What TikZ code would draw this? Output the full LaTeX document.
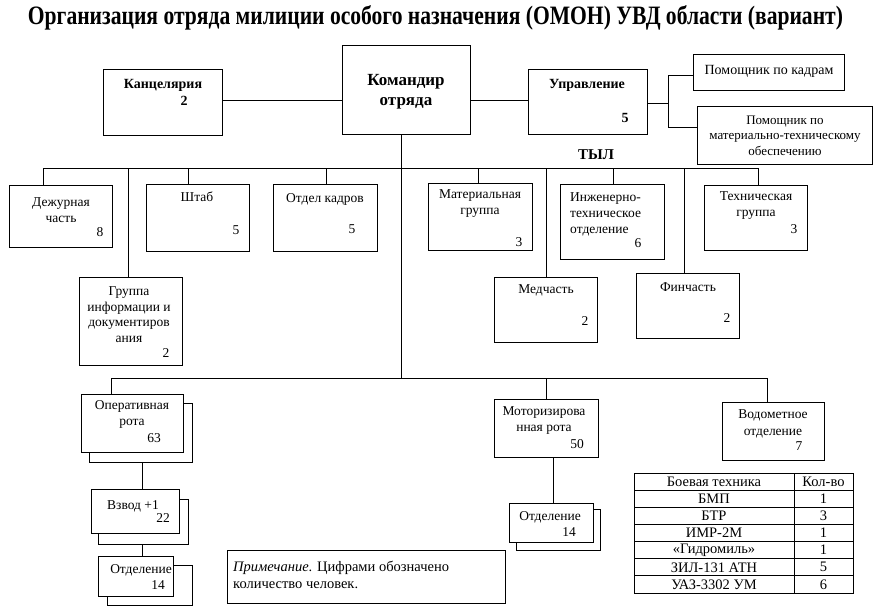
\documentclass[tikz,border=0pt]{standalone}
\usepackage{fontspec}
\setmainfont{Liberation Serif}
\usepackage{graphicx}
\begin{document}
\begin{tikzpicture}[x=1pt,y=-1pt,
  box/.style={draw, line width=0.8pt, fill=white, inner sep=0pt, anchor=north west},
  txt/.style={font=\fontsize{13.5}{16}\selectfont, align=center, inner sep=0pt},
  ttxt/.style={font=\fontsize{14.5}{16}\selectfont, align=center, inner sep=0pt},
  btxt/.style={font=\fontsize{14}{16}\bfseries\selectfont, align=center, inner sep=0pt},
  con/.style={line width=0.8pt}]
\newcommand\bx[5]{\node[box, minimum width={(#4-#2)*1pt}, minimum height={(#5-#3)*1pt}] (#1) at (#2,#3) {};}
\useasboundingbox (0,0) rectangle (883,611);
% title
\node[anchor=base, inner sep=0pt] (title) at (435.5,24)
  {\resizebox{815pt}{19pt}{\bfseries Организация отряда милиции особого назначения (ОМОН) УВД области (вариант)}};
% boxes
\bx{kanc}{103}{69}{222}{135}
\bx{kom}{342}{45}{470}{134}
\bx{upr}{528}{69}{647}{134}
\bx{pk}{693}{54}{844}{90}
\bx{pmto}{697}{106}{872}{164}
\bx{dezh}{9}{185}{112}{247}
\bx{shtab}{146}{184}{249}{251}
\bx{okadr}{273}{184}{377}{251}
\bx{gr}{79}{277}{182}{365}
\bx{mat}{428}{183}{532}{250}
\bx{inzh}{560}{184}{664}{259}
\bx{med}{494}{277}{597}{342}
\bx{tech}{704}{185}{807}{250}
\bx{fin}{636}{273}{739}{338}
\bx{opersh}{89}{403}{192}{462}
\bx{oper}{81}{394}{183}{452}
\bx{vzvsh}{98}{499}{188}{544}
\bx{vzv}{91}{489}{179}{533}
\bx{otdash}{107}{565}{192}{605}
\bx{otda}{98}{556}{173}{596}
\bx{mot}{494}{399}{598}{457}
\bx{otdbsh}{516}{509}{600}{550}
\bx{otdb}{509}{503}{593}{542}
\bx{vod}{722}{402}{824}{460}
\bx{note}{227}{550}{505}{603}
% connectors top
\coordinate (hA) at (0,100);
\draw[con] (kanc.east |- hA) -- (kom.west |- hA);
\draw[con] (kom.east |- hA) -- (upr.west |- hA);
\coordinate (uj) at (668,103);
\coordinate (uj1) at (668,75);
\coordinate (uj2) at (668,127);
\draw[con] (upr.east |- uj) -- (uj);
\draw[con] (uj1) -- (uj2);
\draw[con] (uj1) -- (uj1 -| pk.west);
\draw[con] (uj2) -- (uj2 -| pmto.west);
% main vertical and buses
\coordinate (mv) at (401,378);
\draw[con] (kom.south -| mv) -- (mv);
\coordinate (tb1) at (43,168);
\coordinate (tb2) at (758,168);
\draw[con] (tb1) -- (tb2);
\foreach \xx/\n in {43/dezh,128/gr,188/shtab,326/okadr,478/mat,546/med,613/inzh,684/fin,758/tech}{
  \coordinate (t-\n) at (\xx,168);
  \draw[con] (t-\n) -- (t-\n |- \n.north);
}
\coordinate (lb1) at (111,378);
\coordinate (lb2) at (767,378);
\draw[con] (lb1) -- (lb2);
\foreach \xx/\n in {111/oper,546/mot,767/vod}{
  \coordinate (l-\n) at (\xx,378);
  \draw[con] (l-\n) -- (l-\n |- \n.north);
}
\coordinate (ca) at (142,0);
\draw[con] (opersh.south -| ca) -- (vzv.north -| ca);
\draw[con] (vzvsh.south -| ca) -- (otda.north -| ca);
\coordinate (cb) at (553,0);
\draw[con] (mot.south -| cb) -- (otdb.north -| cb);
% texts
\node[btxt] (kanc-t) at (163,85) {Канцелярия};
\node[btxt] (kanc-n) at (184,101) {2};
\node[font=\fontsize{17}{20}\bfseries\selectfont, align=center, inner sep=0pt] (kom-t) at (406,92) {Командир\\отряда};
\node[btxt] (upr-t) at (587,85) {Управление};
\node[btxt] (upr-n) at (625,118) {5};
\node[txt, font=\fontsize{14}{16}\selectfont] (pk-t) at (769,71) {Помощник по кадрам};
\node[txt, font=\fontsize{13}{15.5}\selectfont] (pmto-t) at (785,135.5) {Помощник по\\материально-техническому\\обеспечению};
\node[font=\fontsize{15}{16}\bfseries\selectfont, inner sep=0pt] (tyl) at (596,155) {ТЫЛ};
\node[txt] (dezh-t) at (61,210) {Дежурная\\часть};
\node[txt] (dezh-n) at (100,232) {8};
\node[txt] (shtab-t) at (197,197) {Штаб};
\node[txt] (shtab-n) at (236,230) {5};
\node[txt] (okadr-t) at (325,199) {Отдел кадров};
\node[txt] (okadr-n) at (352,229) {5};
\node[txt, font=\fontsize{13.5}{15.6}\selectfont] (gr-t) at (129,314.5) {Группа\\информации и\\документиров\\ания};
\node[txt] (gr-n) at (166,353) {2};
\node[txt] (mat-t) at (480,204) {Материальная\\группа};
\node[txt] (mat-n) at (519,242) {3};
\node[txt, align=left, anchor=west] (inzh-t) at (570,214) {Инженерно-\\техническое\\отделение};
\node[txt] (inzh-n) at (638,243) {6};
\node[txt] (med-t) at (546,290) {Медчасть};
\node[txt] (med-n) at (585,321) {2};
\node[txt] (tech-t) at (756,206) {Техническая\\группа};
\node[txt] (tech-n) at (794,229) {3};
\node[txt] (fin-t) at (688,287) {Финчасть};
\node[txt] (fin-n) at (727,318) {2};
\node[txt, font=\fontsize{13.5}{15.5}\selectfont] (oper-t) at (132,414.5) {Оперативная\\рота};
\node[txt] (oper-n) at (154,438) {63};
\node[txt] (vzv-t) at (133,506) {Взвод +1};
\node[txt] (vzv-n) at (163,518) {22};
\node[txt] (otda-t) at (141,570) {Отделение};
\node[txt] (otda-n) at (158,585) {14};
\node[txt] (mot-t) at (544,421) {Моторизирова\\нная рота};
\node[txt] (mot-n) at (577,444) {50};
\node[txt] (otdb-t) at (550,517) {Отделение};
\node[txt] (otdb-n) at (569,532) {14};
\node[txt, font=\fontsize{13.5}{17}\selectfont] (vod-t) at (773,423.5) {Водометное\\отделение};
\node[txt] (vod-n) at (799,446) {7};
\node[txt, align=left, anchor=west, font=\fontsize{14.5}{17}\selectfont] (note-t) at (233,574.5)
  {\textit{Примечание}. Цифрами обозначено\\количество человек.};
% table
\draw[con] (634,473) rectangle (853,593);
\draw[con] (794,473) -- (794,593);
\foreach \i in {1,...,6}{
  \draw[con] (634,{473+\i*120/7}) -- (853,{473+\i*120/7});
}
\foreach \a/\b [count=\i from 0] in {Боевая техника/Кол-во,БМП/1,БТР/3,ИМР-2М/1,«Гидромиль»/1,ЗИЛ-131 АТН/5,УАЗ-3302 УМ/6}{
  \node[ttxt] (tb-a\i) at (714,{473+(\i+0.5)*120/7}) {\a};
  \node[ttxt] (tb-b\i) at (823.5,{473+(\i+0.5)*120/7}) {\b};
}
\end{tikzpicture}
\end{document}
